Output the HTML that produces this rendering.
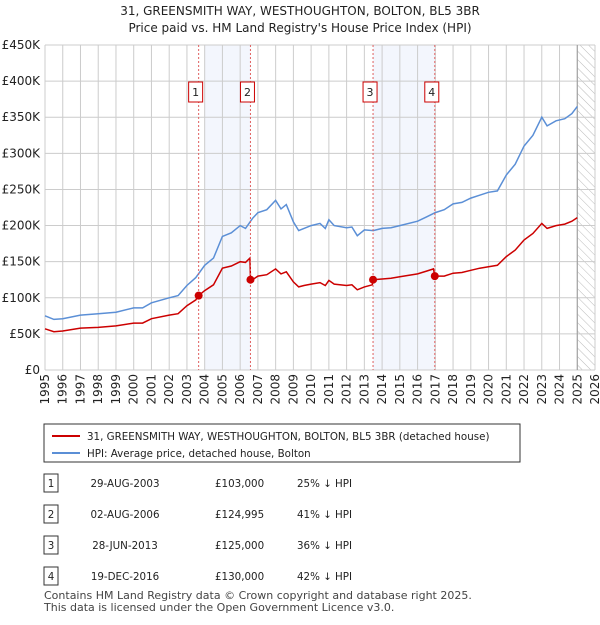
<!DOCTYPE html>
<html><head><meta charset="utf-8"><style>
body{margin:0;width:600px;height:620px;background:#fff;font-family:"Liberation Sans","DejaVu Sans",sans-serif;overflow:hidden}
text{font-family:"DejaVu Sans","Liberation Sans",sans-serif}
</style></head><body>
<svg id="c" width="600" height="620" xmlns="http://www.w3.org/2000/svg">
<defs><pattern id="hatch" width="6" height="6" patternUnits="userSpaceOnUse" patternTransform="rotate(-45)"><line x1="0" y1="0" x2="0" y2="6" stroke="#bbb" stroke-width="1"/></pattern></defs>
<text x="300" y="15" text-anchor="middle" font-size="12" fill="#222">31, GREENSMITH WAY, WESTHOUGHTON, BOLTON, BL5 3BR</text>
<text x="300" y="32" text-anchor="middle" font-size="12" fill="#222">Price paid vs. HM Land Registry's House Price Index (HPI)</text>
<g id="grid"></g><g id="marks"></g><g id="labels"></g>
<rect x="44" y="424" width="476" height="38" fill="#fff" stroke="#333" stroke-width="1"/>
<line x1="52" y1="436" x2="80" y2="436" stroke="#cc0000" stroke-width="2"/>
<text x="87" y="440" font-size="10.3" fill="#222">31, GREENSMITH WAY, WESTHOUGHTON, BOLTON, BL5 3BR (detached house)</text>
<line x1="52" y1="453" x2="80" y2="453" stroke="#5b8fd6" stroke-width="2"/>
<text x="87" y="457" font-size="10.3" fill="#222">HPI: Average price, detached house, Bolton</text>
<g id="table" font-size="10.3" fill="#222"></g>
<text x="44" y="599" font-size="11" fill="#444">Contains HM Land Registry data © Crown copyright and database right 2025.</text>
<text x="44" y="611" font-size="11" fill="#444">This data is licensed under the Open Government Licence v3.0.</text>
</svg>
<script>
const hpiDates=[1995,1995.5,1996,1997,1998,1999,2000,2000.5,2001,2002,2002.5,2003,2003.5,2004,2004.5,2005,2005.5,2006,2006.3,2006.7,2007,2007.5,2008,2008.3,2008.6,2009,2009.3,2009.6,2010,2010.5,2010.8,2011,2011.3,2012,2012.3,2012.6,2013,2013.5,2014,2014.5,2015,2016,2016.5,2017,2017.5,2018,2018.5,2019,2019.5,2020,2020.5,2021,2021.5,2022,2022.5,2023,2023.3,2023.8,2024.3,2024.7,2025];
const hpiValues=[75,70,71,76,78,80,86,86,93,100,103,117,128,145,155,185,190,200,196,210,218,222,235,223,229,205,193,196,200,203,196,208,200,197,198,186,194,193,196,197,200,206,212,218,222,230,232,238,242,246,248,270,285,310,325,350,338,345,348,355,365];
const priceDates=[1995,1995.5,1996,1997,1998,1999,2000,2000.5,2001,2002,2002.5,2003,2003.5,2003.66,2004,2004.5,2005,2005.5,2006,2006.3,2006.55,2006.58,2006.7,2007,2007.5,2008,2008.3,2008.6,2009,2009.3,2009.6,2010,2010.5,2010.8,2011,2011.3,2012,2012.3,2012.6,2013,2013.45,2013.49,2014,2014.5,2015,2016,2016.5,2016.9,2016.97,2017,2017.5,2018,2018.5,2019,2019.5,2020,2020.5,2021,2021.5,2022,2022.5,2023,2023.3,2023.8,2024.3,2024.7,2025];
const priceValues=[57,53,54,58,59,61,65,65,71,76,78,89,97,103,110,118,141,144,150,149,155,125,125,130,132,140,133,136,122,115,117,119,121,117,124,119,117,118,111,115,118,125,126,127,129,133,137,140,130,130,130,134,135,138,141,143,145,157,166,180,189,203,196,200,202,206,211];
const saleDates=[2003.66,2006.58,2013.49,2016.97];
const salePrices=[103000,124995,125000,130000];
const saleLabels=["29-AUG-2003","02-AUG-2006","28-JUN-2013","19-DEC-2016"];
const salePriceText=["£103,000","£124,995","£125,000","£130,000"];
const saleHpiText=["25% ↓ HPI","41% ↓ HPI","36% ↓ HPI","42% ↓ HPI"];
const yTicks=[0,50,100,150,200,250,300,350,400,450];
const yTickLabels=["£0","£50K","£100K","£150K","£200K","£250K","£300K","£350K","£400K","£450K"];
const xTicks=[1995,1996,1997,1998,1999,2000,2001,2002,2003,2004,2005,2006,2007,2008,2009,2010,2011,2012,2013,2014,2015,2016,2017,2018,2019,2020,2021,2022,2023,2024,2025,2026];

const X0=45,X1=595,Y0=370,Y1=45;
const xs=t=>X0+(t-1995)*(X1-X0)/31;
const ys=v=>Y0-v*(Y0-Y1)/450;
const NS="http://www.w3.org/2000/svg";
function mk(tag,attrs,parent){const e=document.createElementNS(NS,tag);for(const k in attrs)e.setAttribute(k,attrs[k]);parent.appendChild(e);return e;}
const grid=document.getElementById('grid'),marks=document.getElementById('marks'),labels=document.getElementById('labels');

let s1=mk('rect',{x:xs(2004),y:Y1,width:xs(saleDates[1])-xs(2004),height:Y0-Y1,fill:'#f3f6fd'},grid);


let s2=mk('rect',{x:xs(saleDates[2]),y:Y1,width:xs(saleDates[3])-xs(saleDates[2]),height:Y0-Y1,fill:'#f3f6fd'},grid);


let hz=mk('rect',{x:xs(2025),y:Y1,width:X1-xs(2025),height:Y0-Y1,fill:'url(#hatch)'},grid);



yTicks.forEach((v,i)=>{
 let l=mk('line',{x1:X0,x2:X1,y1:ys(v),y2:ys(v),stroke:'#ccc','stroke-width':1},grid);
 
 
 let t=mk('text',{x:40,y:ys(v)+4,'text-anchor':'end','font-size':12,fill:'#222'},labels);
 t.textContent=yTickLabels[i];
 
 
});
xTicks.forEach(yr=>{
 let l=mk('line',{x1:xs(yr),x2:xs(yr),y1:Y1,y2:Y0,stroke:'#ccc','stroke-width':1},grid);
 
 
 let t=mk('text',{x:0,y:0,'text-anchor':'end','font-size':12,fill:'#222',transform:`translate(${xs(yr)+4},${Y0+4}) rotate(-90)`},labels);
 t.textContent=yr;
 
 
});
let vl=mk('line',{x1:xs(2025),x2:xs(2025),y1:Y1,y2:Y0,stroke:'#999','stroke-width':1},grid);



function path(d,v){return d.map((t,i)=>(i?'L':'M')+xs(t).toFixed(1)+','+ys(v[i]).toFixed(1)).join('');}
let hp=mk('path',{d:path(hpiDates,hpiValues),fill:'none',stroke:'#5b8fd6','stroke-width':1.5},marks);


let pp=mk('path',{d:path(priceDates,priceValues),fill:'none',stroke:'#cc0000','stroke-width':1.5},marks);



saleDates.forEach((t,i)=>{
 let l=mk('line',{x1:xs(t),x2:xs(t),y1:Y1,y2:Y0,stroke:'#e06060','stroke-width':1,'stroke-dasharray':'2,2'},marks);
 
 
 let c=mk('circle',{cx:xs(t),cy:ys(salePrices[i]/1000),r:4,fill:'#cc0000'},marks);
 
 
 let b=mk('rect',{x:xs(t)-10,y:82,width:14,height:20,fill:'#fff',stroke:'#cc0000','stroke-width':1},marks);
 
 
 let tx=mk('text',{x:xs(t)-3,y:96,'text-anchor':'middle','font-size':11,fill:'#222'},marks);
 tx.textContent=i+1;
 
 
});

const tb=document.getElementById('table');
const rowY=[484,515,546,577];
saleLabels.forEach((d,i)=>{
 let y=rowY[i];
 let b=mk('rect',{x:44,y:y-10,width:14,height:18,fill:'#fff',stroke:'#333'},tb);
 
 
 let n=mk('text',{x:51,y:y+3,'text-anchor':'middle'},tb);n.textContent=i+1;
 
 
 let a=mk('text',{x:125,y:y+3,'text-anchor':'middle'},tb);a.textContent=d;
 
 
 let p=mk('text',{x:215,y:y+3},tb);p.textContent=salePriceText[i];
 
 
 let h=mk('text',{x:297,y:y+3},tb);h.textContent=saleHpiText[i];
 
 
});
</script>
</body></html>
